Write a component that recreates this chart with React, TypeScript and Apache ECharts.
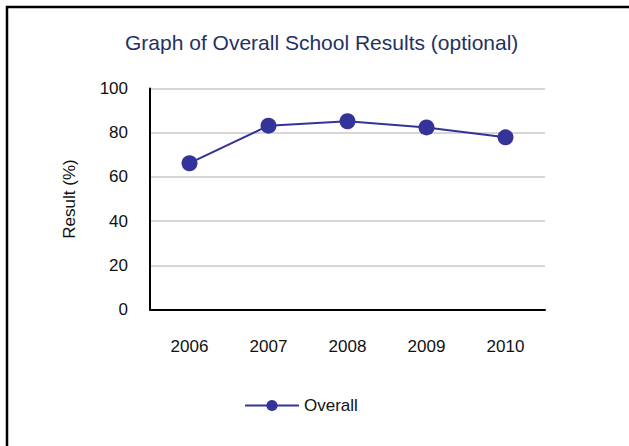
import React, { useEffect, useRef } from "react";
import * as echarts from "echarts";

const years = ["2006", "2007", "2008", "2009", "2010"];
const overall = [66.2, 83.2, 85.2, 82.4, 77.9];
const seriesName = "Overall";
const titleText = "Graph of Overall School Results (optional)";
const yAxisName = "Result (%)";

export default function App() {
  const ref = useRef<HTMLDivElement>(null);
  useEffect(() => {
    if (!ref.current) return;
    const chart = echarts.init(ref.current, null, { renderer: "svg" });
    const font = "Arial, 'Liberation Sans', sans-serif";
    chart.setOption({
      animation: false,
      backgroundColor: "#ffffff",
      title: {
        text: titleText,
        left: 120,
        top: 27,
        textStyle: { fontFamily: font, fontSize: 21, fontWeight: "normal", color: "#1F3164" },
      },
      grid: { left: 150, right: 84, top: 88.5, bottom: 136.5, containLabel: false },
      xAxis: {
        type: "category",
        data: years,
        boundaryGap: true,
        axisLine: { show: true, lineStyle: { color: "#000", width: 2 } },
        axisTick: { show: false },
        axisLabel: { fontFamily: font, fontSize: 17, color: "#111", margin: 28 },
        splitLine: { show: false },
      },
      yAxis: {
        type: "value",
        min: 0,
        max: 100,
        interval: 20,
        name: yAxisName,
        nameLocation: "middle",
        nameGap: 72,
        nameTextStyle: { fontFamily: font, fontSize: 17, color: "#111" },
        axisLine: { show: true, lineStyle: { color: "#000", width: 2 } },
        axisTick: { show: false },
        axisLabel: { fontFamily: font, fontSize: 17, color: "#111", margin: 22 },
        splitLine: { show: true, lineStyle: { color: "#c8c8c8", width: 1.5 } },
      },
      legend: {
        show: true,
        data: [seriesName],
        left: 239,
        top: 392,
        itemWidth: 54,
        itemHeight: 14,
        itemGap: 4,
        textStyle: { fontFamily: font, fontSize: 17, color: "#111" },
      },
      series: [
        {
          name: seriesName,
          type: "line",
          data: overall,
          symbol: "circle",
          symbolSize: 16,
          lineStyle: { color: "#333399", width: 2 },
          itemStyle: { color: "#333399" },
        },
      ],
      graphic: [
        {
          type: "polyline",
          shape: { points: [[7, 446], [7, 7], [629, 7]] },
          style: { stroke: "#000", lineWidth: 2.5, fill: "none" },
        },
      ],
    });
    return () => chart.dispose();
  }, []);
  return (
    <div
      ref={ref}
      style={{ position: "absolute", left: 0, top: 0, width: 629, height: 446 }}
    />
  );
}
